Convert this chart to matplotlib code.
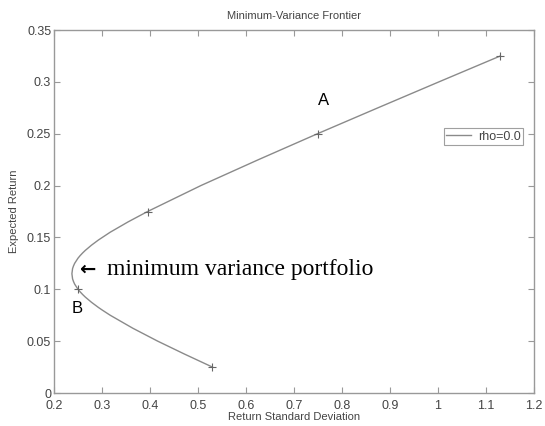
import matplotlib
matplotlib.use("Agg")
import matplotlib.pyplot as plt

# values
ret = [0.025, 0.0375, 0.05, 0.0625, 0.075, 0.08, 0.0825, 0.0875, 0.0925, 0.095,
       0.0975, 0.1, 0.105, 0.1075, 0.11, 0.115, 0.12, 0.1225, 0.125, 0.13,
       0.1325, 0.135, 0.1375, 0.1425, 0.1475, 0.155, 0.165, 0.175, 0.2, 0.225,
       0.25, 0.275, 0.3, 0.325]
std = [0.530, 0.472, 0.416, 0.364, 0.317, 0.3004, 0.2925, 0.278, 0.2652, 0.2596,
       0.2545, 0.250, 0.2430, 0.2406, 0.2387, 0.2373, 0.2387, 0.2406, 0.2430, 0.250,
       0.2545, 0.2596, 0.2652, 0.278, 0.2925, 0.317, 0.3544, 0.395, 0.506, 0.626,
       0.749, 0.875, 1.002, 1.130]
mark_ret = [0.025, 0.1, 0.175, 0.25, 0.325]
mark_std = [0.530, 0.250, 0.395, 0.749, 1.130]

plt.rcParams['font.family'] = ['Liberation Sans', 'DejaVu Sans']
txt = '#444444'
grey = '#8a8a8a'

fig = plt.figure(figsize=(5.45, 4.26), dpi=100)
ax = fig.add_axes([54 / 545, 33 / 426, 480 / 545, 363 / 426])

ax.plot(std, ret, color=grey, lw=1.0, label='rho=0.0')
ax.plot(mark_std, mark_ret, ls='none', marker='+', ms=6, mew=0.8, color='#666666')

ax.set_xlim(0.2, 1.2)
ax.set_ylim(0, 0.35)
ax.set_xticks([0.2, 0.3, 0.4, 0.5, 0.6, 0.7, 0.8, 0.9, 1, 1.1, 1.2])
ax.set_xticklabels(['0.2', '0.3', '0.4', '0.5', '0.6', '0.7', '0.8', '0.9', '1', '1.1', '1.2'])
ax.set_yticks([0, 0.05, 0.1, 0.15, 0.2, 0.25, 0.3, 0.35])
ax.set_yticklabels(['0', '0.05', '0.1', '0.15', '0.2', '0.25', '0.3', '0.35'])
ax.tick_params(direction='in', top=True, right=True, length=4, width=0.8,
               colors='#999999', labelcolor=txt, labelsize=9)
ax.tick_params(axis='x', pad=5)
ax.tick_params(axis='y', pad=2)
for s in ax.spines.values():
    s.set_color('#999999')
    s.set_linewidth(1.0)

ax.set_title('Minimum-Variance Frontier', fontsize=8, color=txt, pad=8)
ax.set_xlabel('Return Standard Deviation', fontsize=8, color=txt, labelpad=0)
ax.set_ylabel('Expected Return', fontsize=8, color=txt, labelpad=6)

ax.text(0.762, 0.282, 'A', fontsize=12, color='black', ha='center', va='center')
ax.text(0.248, 0.081, 'B', fontsize=12, color='black', ha='center', va='center')
ax.text(0.253, 0.119, '\u2190', fontsize=14, family=['DejaVu Sans'], fontweight='bold',
        color='black', ha='left', va='center')
ax.text(0.311, 0.1195, 'minimum variance portfolio', fontsize=17,
        family=['Liberation Serif', 'DejaVu Serif'], color='black', ha='left', va='center')

leg = ax.legend(loc='upper right', bbox_to_anchor=(0.977, 0.73), fontsize=9,
                frameon=True, fancybox=False, handlelength=2.0, borderpad=0.2,
                handletextpad=0.5, borderaxespad=0)
leg.get_frame().set_edgecolor('#888888')
leg.get_frame().set_linewidth(0.8)
for t in leg.get_texts():
    t.set_color(txt)

fig.savefig('out.png', dpi=100)
